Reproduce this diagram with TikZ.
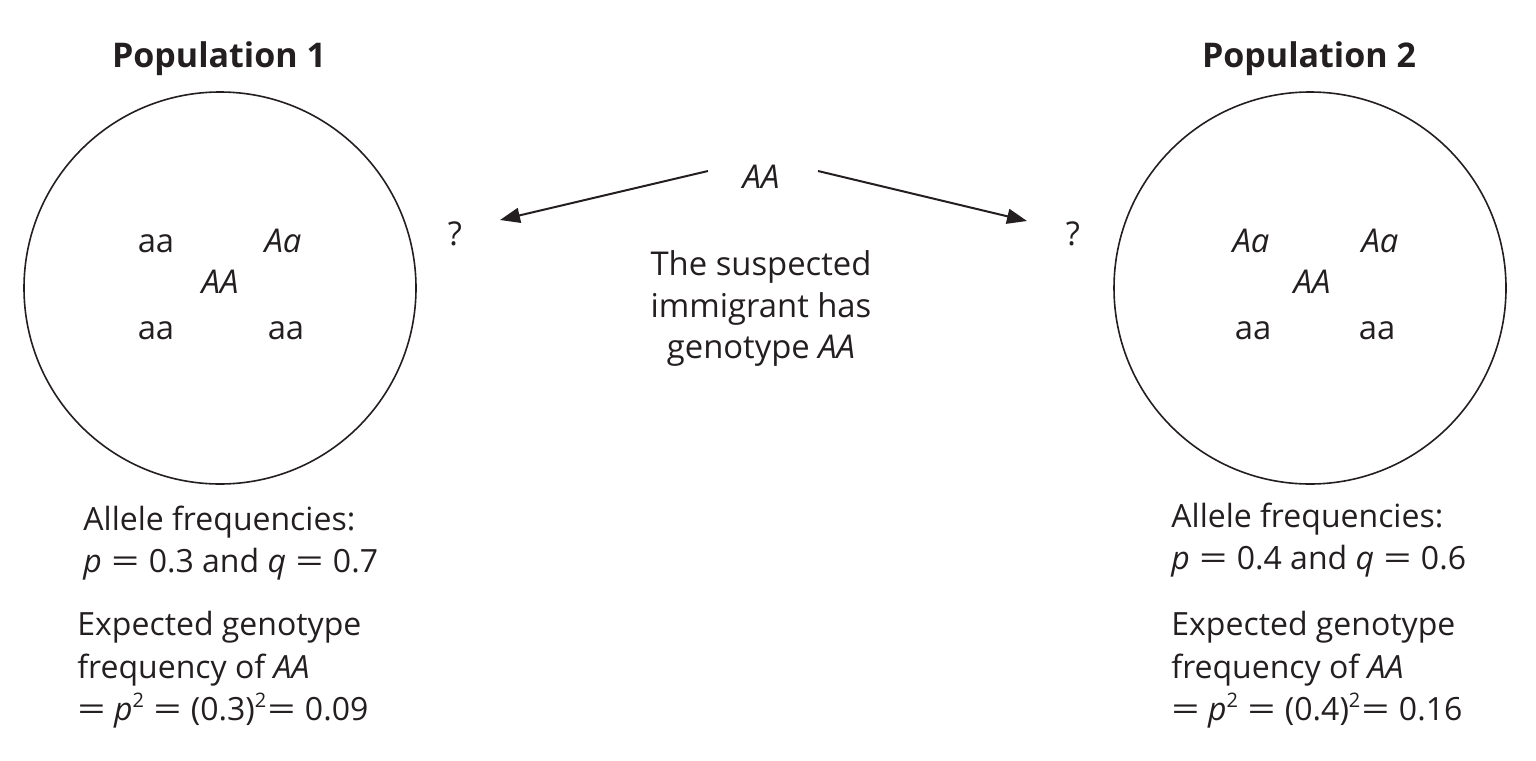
\documentclass[tikz,border=0pt]{standalone}
\usepackage{fontspec}
\usepackage{graphicx}
\setmainfont{Open Sans}
\usetikzlibrary{arrows.meta}
\definecolor{ink}{HTML}{231F20}
\newcommand\myeq{\hspace{0.03em}\scalebox{1.55}[1]{=}\hspace{0.03em}}
\newcommand\supr[1]{\raisebox{0.75ex}{\fontsize{10pt}{10pt}\selectfont #1}}
\tikzset{
  txt/.style={inner sep=0pt, text=ink, font=\fontsize{16.4pt}{21pt}\selectfont, anchor=base},
  ltxt/.style={inner sep=0pt, text=ink, font=\fontsize{16pt}{21pt}\selectfont, anchor=base west},
  ttl/.style={inner sep=0pt, text=ink, font=\fontsize{17pt}{21pt}\selectfont\bfseries, anchor=base},
  pop/.style={draw=ink, line width=0.8pt, circle, inner sep=0pt},
  arr/.style={draw=ink, line width=1pt, -{Triangle[length=10pt,width=7.5pt]}}
}
\begin{document}
\begin{tikzpicture}[x=0.5pt,y=-0.5pt]
\useasboundingbox (0,0) rectangle (1536,760);
% titles
\node[ttl] (t1) at (219,67) {Population 1};
\node[ttl] (t2) at (1309,67) {Population 2};
% circles
\node[pop, minimum size=196pt] (c1) at (220,288) {};
\node[pop, minimum size=196pt] (c2) at (1310,288) {};
% left population
\node[txt] (l1) at (156,252) {aa};
\node[txt] (l2) at (283,252) {\textit{Aa}};
\node[txt] (l3) at (220,293) {\textit{AA}};
\node[txt] (l4) at (156,339) {aa};
\node[txt] (l5) at (286,339) {aa};
% right population
\node[txt] (r1) at (1251,252) {\textit{Aa}};
\node[txt] (r2) at (1380,252) {\textit{Aa}};
\node[txt] (r3) at (1312,293) {\textit{AA}};
\node[txt] (r4) at (1253,339) {aa};
\node[txt] (r5) at (1377,339) {aa};
% immigrant
\node[txt] (im) at (761,188) {\textit{AA}};
\node[txt] (q1) at (455,245) {?};
\node[txt] (q2) at (1073,245) {?};
\coordinate (a1s) at (708,171);
\coordinate (a1e) at (500,220);
\coordinate (a2s) at (818,171);
\coordinate (a2e) at (1027,221);
\draw[arr] (a1s) -- (a1e);
\draw[arr] (a2s) -- (a2e);
\node[txt] (m1) at (761,275) {The suspected};
\node[txt] (m2) at (761,317) {immigrant has};
\node[txt] (m3) at (761,358) {genotype \textit{AA}};
% left bottom text
\node[ltxt] (la) at (83,530) {Allele frequencies:};
\node[ltxt] (lb) at (83,572) {\textit{p} \myeq{} 0.3 and \textit{q} \myeq{} 0.7};
\node[ltxt] (lc) at (77,635) {Expected genotype};
\node[ltxt] (ld) at (77,678) {frequency of \textit{AA}};
\node[ltxt] (le) at (77,720) {\scalebox{1.55}[1]{=} \textit{p}\supr{2} \myeq{} (0.3)\supr{2}\myeq{} 0.09};
% right bottom text
\node[ltxt] (ra) at (1171,527) {Allele frequencies:};
\node[ltxt] (rb) at (1171,569) {\textit{p} \myeq{} 0.4 and \textit{q} \myeq{} 0.6};
\node[ltxt] (rc) at (1171,635) {Expected genotype};
\node[ltxt] (rd) at (1171,678) {frequency of \textit{AA}};
\node[ltxt] (re) at (1171,720) {\scalebox{1.55}[1]{=} \textit{p}\supr{2} \myeq{} (0.4)\supr{2}\myeq{} 0.16};
\end{tikzpicture}
\end{document}
